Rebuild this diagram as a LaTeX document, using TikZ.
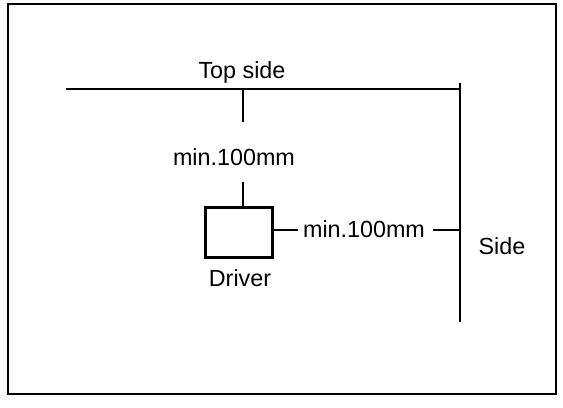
\documentclass[tikz,border=0pt]{standalone}
\usepackage{fontspec}
\setmainfont{Liberation Sans}
\begin{document}
\begin{tikzpicture}[x=0.75pt,y=-0.75pt,
    wall/.style={line width=1.95pt},
    label/.style={font=\fontsize{17.5}{21}\selectfont, inner sep=0pt}]
    \useasboundingbox (0,0) rectangle (563,407);

    % Outer frame
    \draw[line width=2.1pt] (8,4) rectangle (556,394);

    % Top side and side walls
    \coordinate (topleft) at (66,89);
    \coordinate (corner) at (460,89);
    \coordinate (sidetop) at (460,83);
    \coordinate (sidebottom) at (460,322);
    \draw[wall] (topleft) -- (corner);
    \draw[wall] (sidetop) -- (sidebottom);

    % Driver box
    \node[draw, line width=1.95pt, minimum width=50pt, minimum height=37.5pt, inner sep=0pt]
        (driver) at (239,232.5) {};
    \node[label] (drivertext) at (240,278) {Driver};

    % Labels
    \node[label] (toptext) at (242,72) {Top side};
    \node[label] (sidetext) at (502,246) {Side};
    \node[label] (mintop) at (234,157) {min.100mm};
    \node[label] (minside) at (364,229) {min.100mm};

    % Distance ticks
    \coordinate (toptick) at (243,122);
    \coordinate (boxtick) at (243,182);
    \coordinate (righttick) at (298,230);
    \coordinate (sidetick) at (433,230);
    \draw[wall] (toptick |- corner) -- (toptick);
    \draw[wall] (boxtick |- driver.north) -- (boxtick);
    \draw[wall] (righttick -| driver.east) ++(-3,0) -- (righttick);
    \draw[wall] (sidetick) -- (sidetick -| corner);
\end{tikzpicture}
\end{document}
